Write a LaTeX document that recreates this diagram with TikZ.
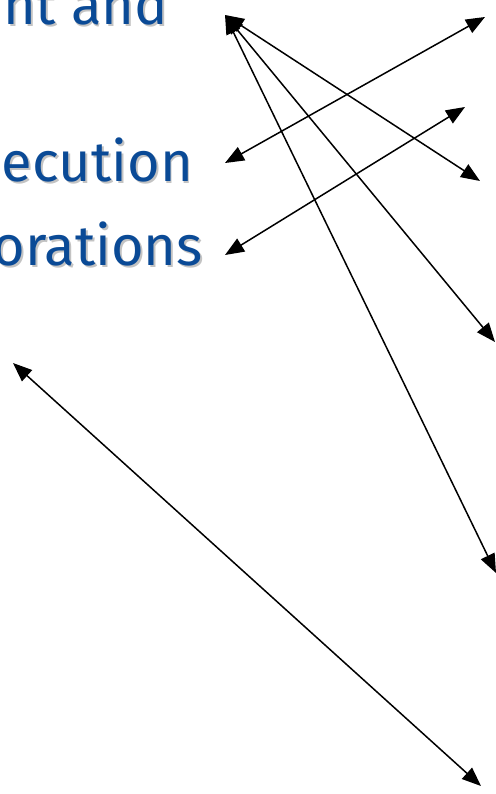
\documentclass[tikz,border=0pt]{standalone}
\usepackage{fontspec}
\setmainfont{Fira Sans}
\usetikzlibrary{arrows.meta}
\definecolor{titleblue}{RGB}{10,74,150}
\definecolor{shadowgray}{RGB}{195,195,195}
\newcommand\shadowed[1]{\rlap{\kern2pt\raisebox{-2pt}{\textcolor{shadowgray}{#1}}}#1}
\begin{document}
\begin{tikzpicture}[x=1pt,y=-1pt,line cap=round,line join=round,>={Triangle[length=19pt,width=15pt]},
	link/.style={<->,line width=1.5pt},
	bluetext/.style={anchor=base east,inner sep=0pt,font=\fontsize{56}{60}\selectfont,text=titleblue}]
		\useasboundingbox (0,0) rectangle (495,794);
		\foreach \n/\x/\y/\s in {mgmt/168/25/nt and,exec/193/182/ecution,orat/203/265/orations}
			\node[bluetext] (\n) at (\x,\y) {\shadowed{\s}};
		\coordinate (hub) at (225,15);
		\coordinate (execend) at (225,163);
		\coordinate (oratend) at (225,255);
		\coordinate (topright) at (485,17);
		\coordinate (midright) at (465,107);
		\coordinate (r1) at (480,181);
		\coordinate (r2) at (495,342);
		\coordinate (r3) at (496,573);
		\coordinate (lowleft) at (13,363);
		\coordinate (lowright) at (481,786);
		\foreach \e in {r1,r2,r3} \draw[link] (hub)--(\e);
		\draw[link] (execend)--(topright);
		\draw[link] (oratend)--(midright);
		\draw[link] (lowleft)--(lowright);
	\end{tikzpicture}
\end{document}
